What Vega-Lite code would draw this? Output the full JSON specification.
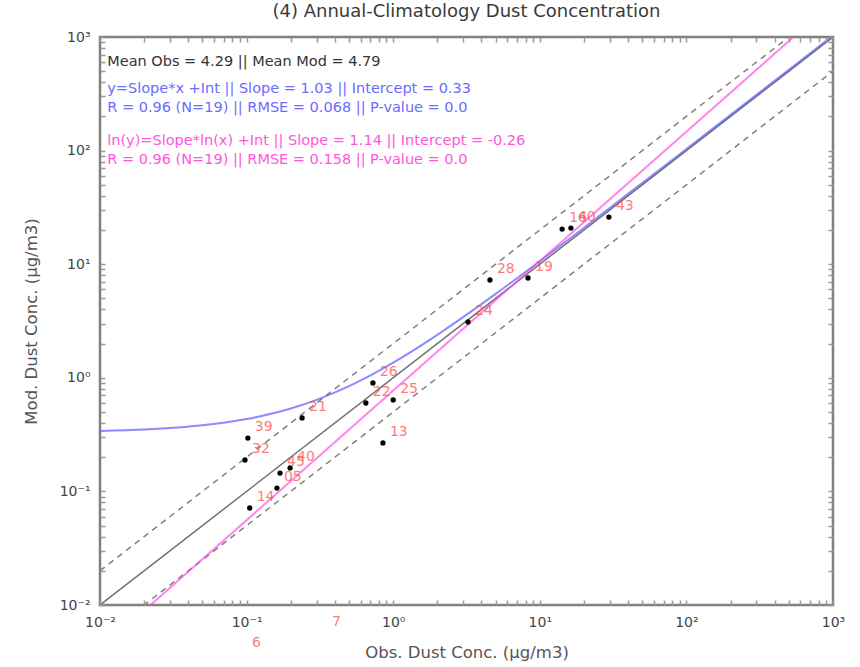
{
  "$schema": "https://vega.github.io/schema/vega-lite/v6.json",
  "width": 733,
  "height": 568,
  "autosize": {"type": "none"},
  "padding": {"left": 100, "top": 37, "right": 27, "bottom": 62},
  "background": "white",
  "config": {
    "view": {"stroke": "#808080", "strokeWidth": 2.5},
    "font": "DejaVu Sans"
  },
  "title": {
    "text": "(4) Annual-Climatology Dust Concentration",
    "fontSize": 18,
    "fontWeight": "normal",
    "color": "#3a3a3a",
    "offset": 9,
    "font": "DejaVu Sans"
  },
  "resolve": {"axis": {"x": "independent", "y": "independent"}},
  "datasets": {
    "pts": [
      {"x": 14.2, "y": 20.4, "id": "16"},
      {"x": 16.3, "y": 20.8, "id": "40"},
      {"x": 29.6, "y": 26.0, "id": "43"},
      {"x": 4.57, "y": 7.26, "id": "28"},
      {"x": 8.31, "y": 7.56, "id": "19"},
      {"x": 3.24, "y": 3.10, "id": "24"},
      {"x": 0.727, "y": 0.90, "id": "26"},
      {"x": 1.0, "y": 0.638, "id": "25"},
      {"x": 0.651, "y": 0.600, "id": "22"},
      {"x": 0.239, "y": 0.443, "id": "21"},
      {"x": 0.851, "y": 0.267, "id": "13"},
      {"x": 0.102, "y": 0.295, "id": "39"},
      {"x": 0.0975, "y": 0.189, "id": "32"},
      {"x": 0.198, "y": 0.161, "id": "40"},
      {"x": 0.169, "y": 0.145, "id": "45"},
      {"x": 0.161, "y": 0.107, "id": "05"},
      {"x": 0.105, "y": 0.0714, "id": "14"},
      {"x": 0.0975, "y": 0.0037, "id": "6"},
      {"x": 0.343, "y": 0.00568, "id": "7"}
    ],
    "lines": [
      {"s": "one", "x": 0.01, "y": 0.01},
      {"s": "one", "x": 1000, "y": 1000},
      {"s": "up", "x": 0.01, "y": 0.02},
      {"s": "up", "x": 1000, "y": 2000},
      {"s": "dn", "x": 0.01, "y": 0.005},
      {"s": "dn", "x": 1000, "y": 500},
      {"s": "pow", "x": 0.01, "y": 0.004046},
      {"s": "pow", "x": 1000, "y": 2028},
      {"s": "lin", "x": 0.01, "y": 0.3403},
      {"s": "lin", "x": 0.02, "y": 0.3506},
      {"s": "lin", "x": 0.05, "y": 0.3815},
      {"s": "lin", "x": 0.1, "y": 0.433},
      {"s": "lin", "x": 0.2, "y": 0.536},
      {"s": "lin", "x": 0.3, "y": 0.639},
      {"s": "lin", "x": 0.5, "y": 0.845},
      {"s": "lin", "x": 0.7, "y": 1.051},
      {"s": "lin", "x": 1, "y": 1.36},
      {"s": "lin", "x": 2, "y": 2.39},
      {"s": "lin", "x": 3, "y": 3.42},
      {"s": "lin", "x": 5, "y": 5.48},
      {"s": "lin", "x": 10, "y": 10.63},
      {"s": "lin", "x": 20, "y": 20.93},
      {"s": "lin", "x": 50, "y": 51.83},
      {"s": "lin", "x": 100, "y": 103.33},
      {"s": "lin", "x": 200, "y": 206.33},
      {"s": "lin", "x": 500, "y": 515.33},
      {"s": "lin", "x": 1000, "y": 1030.33}
    ],
    "notes": [
      {"x": 0.0112, "y": 602, "k": "s", "t": "Mean Obs = 4.29 || Mean Mod = 4.79"},
      {"x": 0.0112, "y": 348, "k": "b", "t": "y=Slope*x +Int || Slope = 1.03 || Intercept = 0.33"},
      {"x": 0.0112, "y": 237, "k": "b", "t": "R = 0.96 (N=19) || RMSE = 0.068 || P-value = 0.0"},
      {"x": 0.0112, "y": 121.5, "k": "p", "t": "ln(y)=Slope*ln(x) +Int || Slope = 1.14 || Intercept = -0.26"},
      {"x": 0.0112, "y": 82.6, "k": "p", "t": "R = 0.96 (N=19) || RMSE = 0.158 || P-value = 0.0"}
    ]
  },
  "layer": [
    {
      "data": {"name": "lines"},
      "transform": [{"filter": "datum.s == 'up' || datum.s == 'dn'"}],
      "mark": {"type": "line", "clip": true, "color": "#808080", "strokeWidth": 1.5, "strokeDash": [6, 5]},
      "encoding": {
        "x": {
          "field": "x", "type": "quantitative",
          "scale": {"type": "log", "domain": [0.01, 1000], "nice": false},
          "axis": {
            "orient": "bottom",
            "title": "Obs. Dust Conc. (μg/m3)",
            "values": [0.01, 0.02, 0.03, 0.04, 0.05, 0.06, 0.07, 0.08, 0.09, 0.1, 0.2, 0.3, 0.4, 0.5, 0.6, 0.7, 0.8, 0.9, 1, 2, 3, 4, 5, 6, 7, 8, 9, 10, 20, 30, 40, 50, 60, 70, 80, 90, 100, 200, 300, 400, 500, 600, 700, 800, 900, 1000],
            "labelExpr": "datum.value == 0.01 ? '10⁻²' : datum.value == 0.1 ? '10⁻¹' : datum.value == 1 ? '10⁰' : datum.value == 10 ? '10¹' : datum.value == 100 ? '10²' : datum.value == 1000 ? '10³' : ''",
            "grid": false,
            "domain": false,
            "zindex": 1,
            "tickSize": -5,
            "tickWidth": 1.5,
            "tickColor": "#999",
            "labelPadding": 15,
            "labelFontSize": 14,
            "labelColor": "#444",
            "labelFlush": false,
            "labelOverlap": false,
            "titleFontSize": 16.5,
            "titleFontWeight": "normal",
            "titleColor": "#555",
            "titlePadding": 15
          }
        },
        "y": {
          "field": "y", "type": "quantitative",
          "scale": {"type": "log", "domain": [0.01, 1000], "nice": false},
          "axis": {
            "orient": "left",
            "title": "Mod. Dust Conc. (μg/m3)",
            "values": [0.01, 0.02, 0.03, 0.04, 0.05, 0.06, 0.07, 0.08, 0.09, 0.1, 0.2, 0.3, 0.4, 0.5, 0.6, 0.7, 0.8, 0.9, 1, 2, 3, 4, 5, 6, 7, 8, 9, 10, 20, 30, 40, 50, 60, 70, 80, 90, 100, 200, 300, 400, 500, 600, 700, 800, 900, 1000],
            "labelExpr": "datum.value == 0.01 ? '10⁻²' : datum.value == 0.1 ? '10⁻¹' : datum.value == 1 ? '10⁰' : datum.value == 10 ? '10¹' : datum.value == 100 ? '10²' : datum.value == 1000 ? '10³' : ''",
            "grid": false,
            "domain": false,
            "zindex": 1,
            "tickSize": -5,
            "tickWidth": 1.5,
            "tickColor": "#999",
            "labelPadding": 15,
            "labelFontSize": 14,
            "labelColor": "#444",
            "labelFlush": false,
            "labelOverlap": false,
            "titleFontSize": 16.5,
            "titleFontWeight": "normal",
            "titleColor": "#555",
            "titlePadding": 20
          }
        },
        "detail": {"field": "s"}
      }
    },
    {
      "data": {"name": "lines"},
      "transform": [{"filter": "datum.s == 'one'"}],
      "mark": {"type": "line", "clip": true, "color": "#707070", "strokeWidth": 1.5},
      "encoding": {
        "x": {"field": "x", "type": "quantitative", "axis": {"orient": "top", "title": null, "labels": false, "domain": false, "grid": false, "zindex": 1, "tickSize": -5, "tickWidth": 1.5, "tickColor": "#999", "values": [0.01, 0.02, 0.03, 0.04, 0.05, 0.06, 0.07, 0.08, 0.09, 0.1, 0.2, 0.3, 0.4, 0.5, 0.6, 0.7, 0.8, 0.9, 1, 2, 3, 4, 5, 6, 7, 8, 9, 10, 20, 30, 40, 50, 60, 70, 80, 90, 100, 200, 300, 400, 500, 600, 700, 800, 900, 1000]}},
        "y": {"field": "y", "type": "quantitative", "axis": {"orient": "right", "title": null, "labels": false, "domain": false, "grid": false, "zindex": 1, "tickSize": -5, "tickWidth": 1.5, "tickColor": "#999", "values": [0.01, 0.02, 0.03, 0.04, 0.05, 0.06, 0.07, 0.08, 0.09, 0.1, 0.2, 0.3, 0.4, 0.5, 0.6, 0.7, 0.8, 0.9, 1, 2, 3, 4, 5, 6, 7, 8, 9, 10, 20, 30, 40, 50, 60, 70, 80, 90, 100, 200, 300, 400, 500, 600, 700, 800, 900, 1000]}}
      }
    },
    {
      "data": {"name": "lines"},
      "transform": [{"filter": "datum.s == 'lin'"}],
      "mark": {"type": "line", "clip": true, "color": "#5a5aff", "opacity": 0.7, "strokeWidth": 2, "interpolate": "monotone"},
      "encoding": {
        "x": {"field": "x", "type": "quantitative", "axis": null},
        "y": {"field": "y", "type": "quantitative", "axis": null}
      }
    },
    {
      "data": {"name": "lines"},
      "transform": [{"filter": "datum.s == 'pow'"}],
      "mark": {"type": "line", "clip": true, "color": "#ff44dd", "opacity": 0.65, "strokeWidth": 2},
      "encoding": {
        "x": {"field": "x", "type": "quantitative", "axis": null},
        "y": {"field": "y", "type": "quantitative", "axis": null}
      }
    },
    {
      "data": {"name": "pts"},
      "mark": {"type": "point", "filled": true, "clip": true, "color": "black", "opacity": 1, "size": 28},
      "encoding": {
        "x": {"field": "x", "type": "quantitative", "axis": null},
        "y": {"field": "y", "type": "quantitative", "axis": null}
      }
    },
    {
      "data": {"name": "pts"},
      "mark": {"type": "text", "align": "left", "baseline": "middle", "dx": 7, "dy": -11, "fontSize": 14, "color": "#ff4444", "opacity": 0.7},
      "encoding": {
        "x": {"field": "x", "type": "quantitative", "axis": null},
        "y": {"field": "y", "type": "quantitative", "axis": null},
        "text": {"field": "id"}
      }
    },
    {
      "data": {"name": "notes"},
      "transform": [{"filter": "datum.k == 's'"}],
      "mark": {"type": "text", "align": "left", "baseline": "middle", "fontSize": 14.5, "color": "#333"},
      "encoding": {
        "x": {"field": "x", "type": "quantitative", "axis": null},
        "y": {"field": "y", "type": "quantitative", "axis": null},
        "text": {"field": "t"}
      }
    },
    {
      "data": {"name": "notes"},
      "transform": [{"filter": "datum.k == 'b'"}],
      "mark": {"type": "text", "align": "left", "baseline": "middle", "fontSize": 14.5, "color": "#6b6bff"},
      "encoding": {
        "x": {"field": "x", "type": "quantitative", "axis": null},
        "y": {"field": "y", "type": "quantitative", "axis": null},
        "text": {"field": "t"}
      }
    },
    {
      "data": {"name": "notes"},
      "transform": [{"filter": "datum.k == 'p'"}],
      "mark": {"type": "text", "align": "left", "baseline": "middle", "fontSize": 14.5, "color": "#ff55dd"},
      "encoding": {
        "x": {"field": "x", "type": "quantitative", "axis": null},
        "y": {"field": "y", "type": "quantitative", "axis": null},
        "text": {"field": "t"}
      }
    }
  ]
}
